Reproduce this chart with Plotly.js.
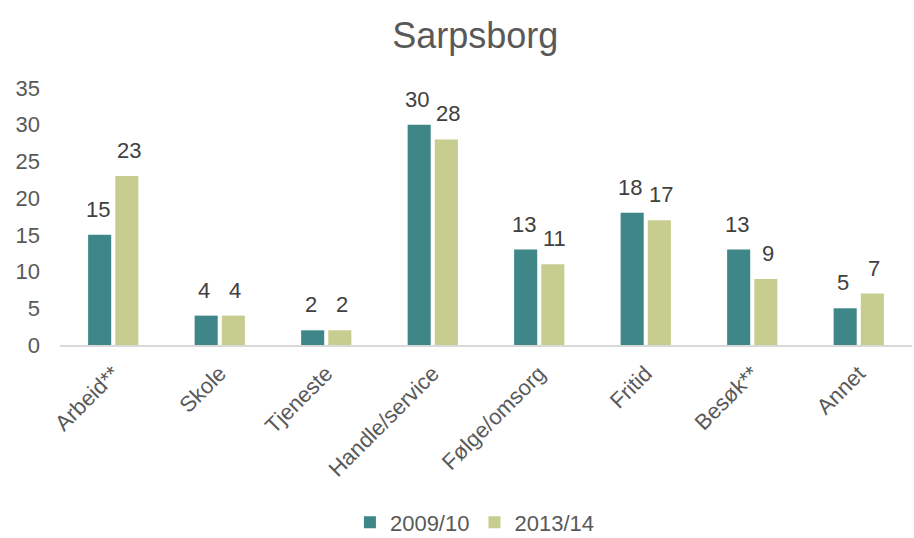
<!DOCTYPE html>
<html><head><meta charset="utf-8">
<script src="https://cdn.plot.ly/plotly-3.0.1.min.js"></script>
<style>body{margin:0;background:#fff}#c{width:914px;height:538px}</style>
</head><body><div id="c"></div>
<script>
const categories = ["Arbeid**","Skole","Tjeneste","Handle/service","Følge/omsorg","Fritid","Besøk**","Annet"];
const s2009 = [15,4,2,30,13,18,13,5];
const s2013 = [23,4,2,28,11,17,9,7];
const seriesNames = ["2009/10","2013/14"];
const fam = "Liberation Sans, Arial, sans-serif";
const traces = [
 {type:"bar", name:seriesNames[0], x:categories, y:s2009, marker:{color:"#3F8689"}},
 {type:"bar", name:seriesNames[1], x:categories, y:s2013, marker:{color:"#C7CD8E"}}
];
const annotations = [];
[s2009, s2013].forEach((s, k) => {
  s.forEach((v, i) => annotations.push({
    x: categories[i], y: v, xref:"x", yref:"y", text:String(v), showarrow:false,
    xanchor:"center", yanchor:"bottom", xshift: k===0 ? -15.5 : 15.5, yshift: 11,
    font:{size:22, color:"#404040", family:fam}
  }));
});
const layout = {
 width:914, height:538,
 margin:{l:60, r:2, t:88, b:193, autoexpand:false},
 paper_bgcolor:"#fff", plot_bgcolor:"#fff",
 font:{family:fam, size:22, color:"#595959"},
 title:{text:"Sarpsborg", x:0.52, xanchor:"center", y:0.935, yanchor:"middle", font:{size:36, color:"#595959", family:fam}},
 bargap:0.49, bargroupgap:0.15,
 showlegend:true,
 legend:{orientation:"h", x:0.487, xanchor:"center", y:-0.69, yanchor:"middle", font:{size:22, color:"#595959"}},
 annotations: annotations,
 xaxis:{tickangle:-45, showgrid:false, showline:true, linecolor:"#D9D9D9", linewidth:2, ticks:"", tickfont:{size:22, color:"#595959"}, ticklabelstandoff:5, automargin:false},
 yaxis:{range:[0,35], dtick:5, showgrid:false, zeroline:false, showline:false, ticks:"", tickfont:{size:22, color:"#595959"}, ticklabelstandoff:19, automargin:false}
};
Plotly.newPlot("c", traces, layout, {displayModeBar:false});
</script></body></html>
